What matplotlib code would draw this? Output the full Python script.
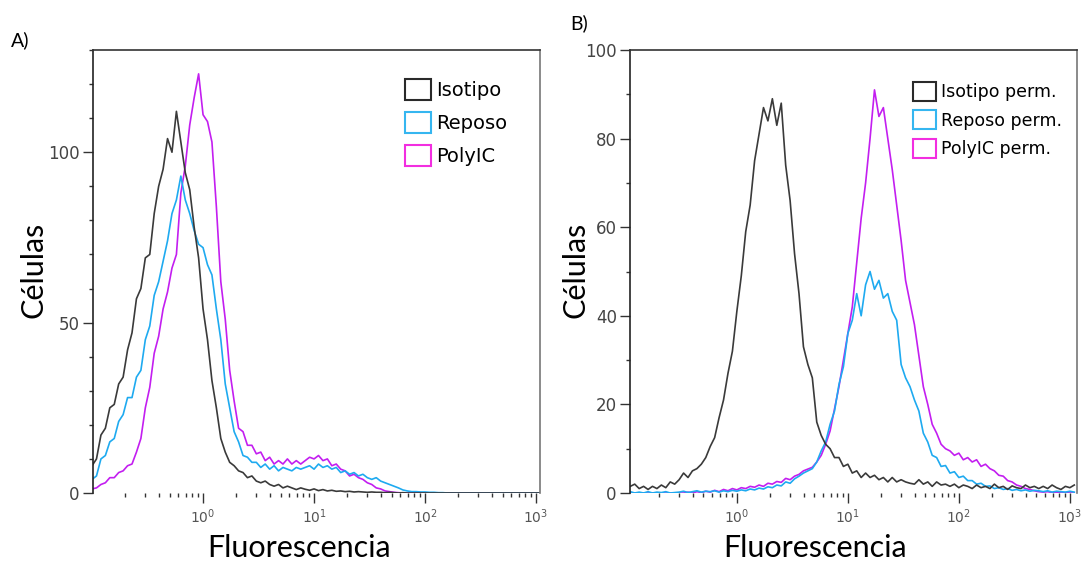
import numpy as np
import matplotlib.pyplot as plt
from matplotlib.patches import Patch
from matplotlib.ticker import LogLocator, MultipleLocator, NullFormatter

# fluorescence channels (log scale, 0.04 decade per channel)
log_fl = np.round(np.arange(102) * 0.04 - 1.0, 2)
fluor = 10 ** log_fl

# panel A - surface staining
a_isotipo = [8, 10, 17, 19, 25, 26, 32, 34, 42, 47,
             57, 60, 69, 70, 82, 90, 95, 104, 100, 112,
             103, 94, 89, 78, 69, 54, 45, 33, 25, 16,
             12, 9, 8, 6.5, 6, 4.5, 5, 3.5, 3, 3.5,
             2.5, 2, 2.5, 1.5, 2, 1.5, 1, 1.5, 1.1, 0.8,
             1.2, 0.7, 1, 0.6, 0.8, 0.5, 0.6, 0.4, 0.5, 0.3,
             0.4, 0.3, 0.2, 0.3, 0.2, 0.2, 0.1, 0.2, 0.1, 0,
             0.1, 0, 0] + [0] * 29
a_reposo = [4, 5, 10, 11, 15, 16, 21, 23, 28, 28,
            34, 36, 45, 49, 58, 62, 68, 74, 82, 86,
            93, 86, 82, 77, 73, 72, 67, 64, 54, 45,
            32, 25, 18, 15, 11, 10.5, 9, 9, 7.5, 8.5,
            7, 8, 6.5, 7.5, 7, 6.5, 7.5, 7, 7.5, 8,
            7, 8.5, 7.5, 8, 7, 7.5, 6, 6.5, 5.5, 6,
            5, 5.5, 4.5, 4, 4.5, 3.5, 3, 2.5, 2, 1.5,
            0.9, 0.6, 0.4, 0.4, 0.3, 0.3, 0.2, 0.2, 0.1, 0.1] + [0] * 22
a_polyic = [1.2, 1.5, 2.5, 3, 4.5, 4.5, 6, 6.5, 8, 8.5,
            12, 16, 25, 31, 41, 46, 54, 59, 66, 70,
            88, 96, 108, 116, 123, 111, 109, 103, 84, 62,
            51, 36, 27, 19, 18, 14, 14, 11.5, 12, 9.5,
            10.5, 8.5, 9.5, 8.5, 10, 8.5, 9.5, 8.5, 9.5, 10.5,
            10, 11, 9.5, 10, 8, 8.5, 7, 6.5, 5, 5.5,
            4.5, 4, 3, 2.5, 1.5, 1.2, 0.6, 0.4, 0.2, 0.1] + [0] * 32

# panel B - permeabilized
b_isotipo = [1.2, 1.5, 2, 1, 1.5, 0.8, 1.5, 1, 1.8, 1.2,
             2.5, 2, 3, 4.5, 3.5, 5, 5.5, 6.5, 8, 10.5,
             12.5, 17, 21, 27, 32, 41, 49, 59, 65, 75,
             81, 87, 84, 89, 83, 88, 74, 66, 54, 45,
             33, 29, 26, 16, 13, 11, 10, 8, 8, 6,
             6.5, 4.5, 5, 3.5, 4.5, 3.5, 4, 3, 3.5, 2.5,
             3.5, 2.5, 3, 2.5, 2.2, 2, 3, 2, 2.5, 1.5,
             2.5, 1.8, 2, 1.5, 2, 1.2, 1.8, 1.5, 1, 1.8,
             1.2, 1.5, 1, 2, 1.2, 1.5, 0.8, 1.6, 1.2, 1,
             1.8, 1.2, 1.5, 1, 1.5, 1, 1.8, 1.2, 0.8, 1.5,
             1.2, 1.8]
b_reposo = [0.2, 0.3, 0, 0.2, 0, 0.3, 0, 0.2, 0.1, 0.3,
            0, 0.1, 0.2, 0.4, 0.1, 0.3, 0.5, 0.2, 0.4, 0.3,
            0.5, 0.2, 0.5, 0.3, 0.6, 0.4, 0.7, 0.5, 0.9, 0.7,
            1.1, 0.9, 1.4, 1.2, 1.8, 1.6, 2.5, 2.2, 3.2, 3.8,
            4.5, 5, 5.5, 7, 9.5, 11.5, 15.5, 18.5, 24.5, 28.5,
            36, 39, 45, 40, 47, 50, 46, 48, 44, 45,
            41, 39, 29, 26, 24, 21, 18.5, 13.5, 11.5, 8.5,
            8, 6, 6.2, 4.5, 4.8, 3.5, 3.8, 2.8, 2.8, 2,
            2.2, 1.5, 1.6, 1, 1.2, 0.8, 1, 0.6, 0.8, 0.5,
            0.7, 0.4, 0.6, 0.5, 0.3, 0.5, 0.2, 0.4, 0.3, 0.2,
            0.4, 0.2]
b_polyic = [0, 0, 0, 0, 0, 0, 0, 0, 0, 0,
            0, 0, 0, 0, 0.2, 0, 0.3, 0.1, 0.4, 0.2,
            0.6, 0.3, 0.8, 0.5, 1, 0.7, 1.2, 1, 1.5, 1.3,
            1.8, 1.5, 2.2, 2, 2.6, 2.4, 3.3, 3, 3.8, 4.2,
            5, 5.4, 5.8, 7, 8.5, 11, 14, 19, 24, 30,
            36, 42, 52, 62, 70, 80, 91, 85, 87, 80,
            73, 65, 57, 48, 43, 38, 31, 24, 20, 15.5,
            13.5, 11, 10, 9.5, 8.5, 9, 7.5, 8, 7, 7.5,
            6, 6.5, 5.5, 5, 4, 3.8, 2.8, 2.5, 1.8, 1.5,
            1, 0.8, 0.5, 0.3, 0.2, 0.3, 0.1, 0.2, 0, 0.1,
            0, 0]

labels_a = ['Isotipo', 'Reposo', 'PolyIC']
labels_b = ['Isotipo perm.', 'Reposo perm.', 'PolyIC perm.']

line_cols = ['#3a3a3a', '#1eaaf0', '#c31ef0']
box_cols = ['#2a2a2a', '#35b6f0', '#f22ee0']

W, H = 1084, 562
fig = plt.figure(figsize=(W / 100, H / 100), dpi=100)

def setup(ax, ymax, ymajor, xmin, xmax):
    ax.set_xscale('log')
    ax.set_xlim(xmin, xmax)
    ax.set_ylim(0, ymax)
    ax.xaxis.set_major_locator(LogLocator(base=10, numticks=10))
    ax.xaxis.set_minor_locator(LogLocator(base=10, subs=np.arange(2, 10), numticks=10))
    ax.xaxis.set_minor_formatter(NullFormatter())
    ax.yaxis.set_major_locator(MultipleLocator(ymajor))
    ax.yaxis.set_minor_locator(MultipleLocator(10))
    ax.tick_params(which='major', direction='out', length=7.5, width=1, color='#333333')
    ax.tick_params(which='minor', direction='out', length=3, width=1, color='#333333')
    ax.tick_params(axis='y', labelsize=12, labelcolor='#444444', pad=2)
    ax.tick_params(axis='x', labelsize=10, labelcolor='#555555', pad=3)
    ax.spines['bottom'].set_visible(False)
    ax.spines['left'].set_color('#222222')
    ax.spines['top'].set_color('#333333')
    ax.spines['right'].set_color('#777777')
    for s in ax.spines.values():
        s.set_linewidth(1.2)

def draw(ax, series, labels, fs, hsize, spacing, anchor):
    for y, c in zip(series[::-1], line_cols[::-1]):
        ax.plot(fluor, y, color=c, lw=1.2)
    handles = [Patch(facecolor='none', edgecolor=c, lw=1.5) for c in box_cols]
    ax.legend(handles, labels, loc='upper left', bbox_to_anchor=anchor,
              frameon=False, fontsize=fs, handlelength=hsize, handleheight=hsize,
              handletextpad=0.3, labelspacing=spacing, borderpad=0, borderaxespad=0)

y0, y1 = 1 - 493 / H, 1 - 50 / H
axA = fig.add_axes([93 / W, y0, (540 - 93) / W, y1 - y0])
setup(axA, 130, 50, 0.102, 1085)
draw(axA, [a_isotipo, a_reposo, a_polyic], labels_a, 14, 1.3, 0.6, (0.699, 0.934))

axB = fig.add_axes([630 / W, y0, (1077 - 630) / W, y1 - y0])
setup(axB, 100, 20, 0.109, 1160)
draw(axB, [b_isotipo, b_reposo, b_polyic], labels_b, 12.5, 1.3, 0.53, (0.633, 0.928))

lab = dict(fontsize=22, family='Lato', color='black')
fig.text(33 / W, 1 - 270 / H, 'Células', rotation=90, ha='center', va='center', **lab)
fig.text(575 / W, 1 - 270 / H, 'Células', rotation=90, ha='center', va='center', **lab)
fig.text(299 / W, 1 - 548 / H, 'Fluorescencia', ha='center', va='center', **lab)
fig.text(815 / W, 1 - 548 / H, 'Fluorescencia', ha='center', va='center', **lab)
fig.text(20 / W, 1 - 40 / H, 'A)', ha='center', va='center', fontsize=14, family='Lato')
fig.text(579 / W, 1 - 23 / H, 'B)', ha='center', va='center', fontsize=14, family='Lato')

fig.savefig('out.png', dpi=100)
